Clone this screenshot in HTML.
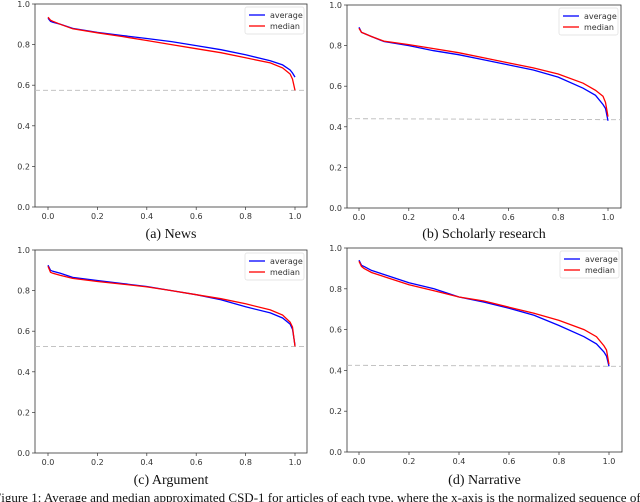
<!DOCTYPE html>
<html><head><meta charset="utf-8"><style>
body{margin:0;background:#fff;width:640px;height:502px;overflow:hidden}
svg{position:absolute;left:0;top:0}
</style></head><body>
<svg id="fig" width="640" height="502" xmlns="http://www.w3.org/2000/svg"></svg>
<script>
const xs=[0,0.01,0.02,0.05,0.1,0.2,0.3,0.4,0.5,0.6,0.7,0.8,0.9,0.95,0.98,0.99,1.0];
const xTicks=["0.0","0.2","0.4","0.6","0.8","1.0"];
const yTicks=["0.0","0.2","0.4","0.6","0.8","1.0"];
const newsAvg=[0.93,0.915,0.91,0.9,0.88,0.86,0.845,0.83,0.815,0.795,0.775,0.75,0.72,0.70,0.675,0.66,0.64];
const newsMed=[0.935,0.92,0.915,0.9,0.878,0.858,0.84,0.82,0.80,0.78,0.76,0.735,0.71,0.685,0.655,0.63,0.575];
const newsBase=[0.575,0.575];
const schAvg=[0.89,0.865,0.86,0.845,0.82,0.80,0.775,0.755,0.73,0.705,0.68,0.645,0.59,0.555,0.51,0.49,0.43];
const schMed=[0.885,0.865,0.86,0.845,0.822,0.805,0.785,0.765,0.74,0.715,0.69,0.66,0.615,0.58,0.55,0.52,0.45];
const schBase=[0.44,0.435];
const argAvg=[0.925,0.9,0.895,0.885,0.865,0.85,0.835,0.82,0.80,0.78,0.755,0.72,0.69,0.665,0.635,0.61,0.53];
const argMed=[0.92,0.89,0.885,0.875,0.86,0.845,0.832,0.818,0.80,0.78,0.76,0.735,0.705,0.68,0.645,0.62,0.525];
const argBase=[0.525,0.525];
const narAvg=[0.94,0.915,0.91,0.89,0.87,0.83,0.80,0.76,0.735,0.705,0.67,0.62,0.565,0.53,0.49,0.47,0.42];
const narMed=[0.935,0.91,0.9,0.88,0.86,0.82,0.79,0.76,0.74,0.71,0.68,0.645,0.60,0.565,0.52,0.50,0.43];
const narBase=[0.425,0.42];

const NS="http://www.w3.org/2000/svg";
const svg=document.getElementById('fig');
function mk(tag,attrs,parent){const e=document.createElementNS(NS,tag);for(const k in attrs)e.setAttribute(k,attrs[k]);(parent||svg).appendChild(e);return e;}

const panels=[
 {id:'news',L:35,R:307,T:4,B:207,x0:48,x1:295,avg:newsAvg,med:newsMed,base:newsBase,cap:'(a) News',capY:238},
 {id:'scholarly',L:347,R:621,T:5,B:208,x0:359,x1:608,avg:schAvg,med:schMed,base:schBase,cap:'(b) Scholarly research',capY:238},
 {id:'argument',L:35,R:307,T:250,B:453,x0:48,x1:295,avg:argAvg,med:argMed,base:argBase,cap:'(c) Argument',capY:484},
 {id:'narrative',L:347,R:622,T:248,B:452,x0:359,x1:609,avg:narAvg,med:narMed,base:narBase,cap:'(d) Narrative',capY:484}
];
panels.forEach(p=>{
 const g=mk('g',{});
 
 
 const sx=v=>p.x0+v*(p.x1-p.x0);
 const sy=v=>p.B-v*(p.B-p.T);
 mk('rect',{x:p.L,y:p.T,width:p.R-p.L,height:p.B-p.T,fill:'#fff',stroke:'#333','stroke-width':0.8},g);
 xTicks.forEach(t=>{const x=sx(parseFloat(t));
  mk('line',{x1:x,x2:x,y1:p.B,y2:p.B+3,stroke:'#333','stroke-width':0.7},g);
  const tx=mk('text',{x:x,y:p.B+12,'font-size':8,'text-anchor':'middle',fill:'#333','font-family':'DejaVu Sans, sans-serif'},g);tx.textContent=t;
  });
 yTicks.forEach(t=>{const y=sy(parseFloat(t));
  mk('line',{x1:p.L-3,x2:p.L,y1:y,y2:y,stroke:'#333','stroke-width':0.7},g);
  const tx=mk('text',{x:p.L-5,y:y+3,'font-size':8,'text-anchor':'end',fill:'#333','font-family':'DejaVu Sans, sans-serif'},g);tx.textContent=t;
  });
 const bl=mk('line',{x1:p.L,x2:p.R,y1:sy(p.base[0]),y2:sy(p.base[1]),stroke:'#bbb','stroke-width':0.9,'stroke-dasharray':'5,3'},g);
 
 [[p.avg,'#0000ff','average-line'],[p.med,'#ff0000','median-line']].forEach(([arr,c,n])=>{
  const pts=arr.map((v,i)=>sx(xs[i]).toFixed(1)+','+sy(v).toFixed(1)).join(' ');
  const pl=mk('polyline',{points:pts,fill:'none',stroke:c,'stroke-width':1.3},g);
  
 });
 const lg=mk('g',{},g);
 
 const lx=p.R-62,ly=p.T+3;
 mk('rect',{x:lx,y:ly,width:59,height:27,fill:'#fff',stroke:'#ddd','stroke-width':0.7,rx:2},lg);
 [['average','#0000ff'],['median','#ff0000']].forEach(([t,c],i)=>{
  const yy=ly+8+i*11;
  mk('line',{x1:lx+4,x2:lx+20,y1:yy,y2:yy,stroke:c,'stroke-width':1.3},lg);
  const tx=mk('text',{x:lx+25,y:yy+3,'font-size':8,fill:'#333','font-family':'DejaVu Sans, sans-serif'},lg);tx.textContent=t;
  
 });
 const cap=mk('text',{x:(p.L+p.R)/2,y:p.capY,'font-size':14,'text-anchor':'middle',fill:'#111','font-family':'Liberation Serif, serif'},g);
 cap.textContent=p.cap;
 
});
const fc=mk('text',{x:-6,y:502,'font-size':13,fill:'#111','font-family':'Liberation Serif, serif'});
fc.textContent='Figure 1: Average and median approximated CSD-1 for articles of each type, where the x-axis is the normalized sequence of';

</script>
</body></html>
